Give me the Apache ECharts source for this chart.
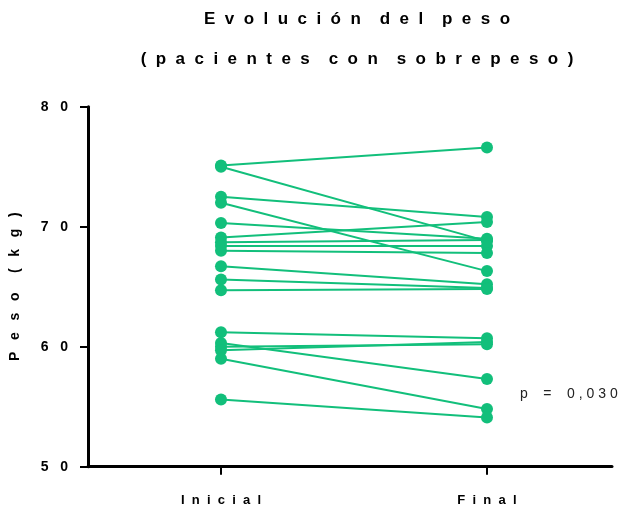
<!DOCTYPE html>
<html>
<head>
<meta charset="utf-8">
<script src="https://cdn.jsdelivr.net/npm/echarts@6/dist/echarts.min.js"></script>
<style>
  html, body { margin: 0; padding: 0; background: #fff; }
  #chart { width: 624px; height: 508px; }
</style>
</head>
<body>
<div id="chart"></div>
<script>
// Weight per patient at the start and at the end of follow-up (kg)
const categories = ['Inicial', 'Final'];
const pesoInicial = [75.1, 75.0, 72.5, 72.0, 70.3, 69.1, 68.7, 68.4, 68.0, 66.7, 65.6, 64.7, 61.2, 60.3, 60.0, 59.7, 59.0, 55.6];
const pesoFinal   = [76.6, 68.8, 70.8, 66.3, 69.0, 70.4, 68.9, 68.4, 67.8, 65.2, 64.9, 64.8, 60.7, 57.3, 60.2, 60.4, 54.8, 54.1];
const yTicks = [50, 60, 70, 80];
const titleLines = ['Evolución del peso', '(pacientes con sobrepeso)'];
const yName = 'Peso (kg)';
const pText = 'p = 0,030';

const FONT = '"Liberation Sans", Arial, Helvetica, sans-serif';
const GREEN = '#12bf7b';

// Spread letters apart (wide tracking), with a wider gap between words
function spaced(str, gap, wordGap) {
  return str.split(' ').map(w => w.split('').join(gap)).join(wordGap);
}

const series = pesoInicial.map((v, i) => ({
  type: 'line',
  data: [[0, v], [1, pesoFinal[i]]],
  symbol: 'circle',
  symbolSize: 12,
  showSymbol: true,
  lineStyle: { color: GREEN, width: 2 },
  itemStyle: { color: GREEN },
  emphasis: { disabled: true },
  animation: false,
  z: 2
}));

const chart = echarts.init(document.getElementById('chart'), null, { renderer: 'canvas' });
chart.setOption({
  animation: false,
  title: {
    text: titleLines.map(t => spaced(t, '  ', '    ')).join('\n'),
    left: 352,
    top: -6,
    textAlign: 'center',
    textStyle: { fontFamily: FONT, fontWeight: 'bold', fontSize: 17, color: '#000', lineHeight: 40 }
  },
  grid: { left: 86, right: 12, top: 106.7, bottom: 41.3 },
  xAxis: {
    type: 'value',
    min: -0.5,
    max: 1.47,
    splitLine: { show: false },
    axisLine: { show: true, onZero: false, lineStyle: { color: '#000', width: 3 } },
    axisTick: { show: true, customValues: [0, 1], length: 8, lineStyle: { color: '#000', width: 2 } },
    axisLabel: {
      customValues: [0, 1],
      formatter: v => spaced(categories[Math.round(v)], '  ', '    '),
      margin: 27,
      fontFamily: FONT, fontWeight: 'bold', fontSize: 13, color: '#000'
    }
  },
  yAxis: {
    type: 'value',
    min: yTicks[0],
    max: yTicks[yTicks.length - 1],
    interval: 10,
    name: spaced(yName, '   ', '     '),
    nameLocation: 'middle',
    nameGap: 66,
    nameRotate: 90,
    nameTextStyle: { fontFamily: FONT, fontWeight: 'bold', fontSize: 14, color: '#000' },
    splitLine: { show: false },
    axisLine: { show: true, onZero: false, lineStyle: { color: '#000', width: 3 } },
    axisTick: { show: true, length: 8, lineStyle: { color: '#000', width: 2 } },
    axisLabel: {
      formatter: v => spaced(String(v), '   ', '   '),
      margin: 20,
      fontFamily: FONT, fontWeight: 'bold', fontSize: 14, color: '#000'
    }
  },
  graphic: [{
    type: 'text',
    left: 520,
    top: 387,
    style: {
      text: spaced(pText, ' ', '    '),
      font: '14px ' + FONT,
      fill: '#222'
    }
  }],
  series: series
});
</script>
</body>
</html>
